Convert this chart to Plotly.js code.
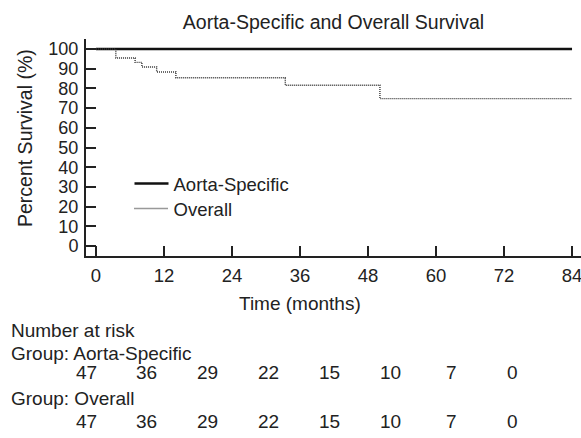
<!DOCTYPE html>
<html>
<head>
<meta charset="utf-8">
<script src="https://cdn.plot.ly/plotly-3.0.1.min.js"></script>
<style>html,body{margin:0;padding:0;background:#fff;}#chart{width:581px;height:438px;}</style>
</head>
<body>
<div id="chart"></div>
<script>
// ---- data ----
var aortaTime = [0, 84];
var aortaSurv = [100, 100];
var overallTime = [0, 3.5, 6.9, 8.1, 10.7, 14.1, 33.4, 50.1, 84];
var overallSurv = [100, 95.4, 93.2, 90.9, 88.3, 85.4, 81.6, 74.8, 74.8];
var riskTimes = [0, 12, 24, 36, 48, 60, 72, 84];
var riskAorta = [47, 36, 29, 22, 15, 10, 7, 0];
var riskOverall = [47, 36, 29, 22, 15, 10, 7, 0];
var xTicks = [0, 12, 24, 36, 48, 60, 72, 84];
var yTicks = [0, 10, 20, 30, 40, 50, 60, 70, 80, 90, 100];

var FONT = "Liberation Sans, Arial, sans-serif";
var TXT = '#222';

// layout geometry (pixels)
var L = 86, R = 0, T = 39, B = 182, W = 581, H = 438;
var pw = W - L - R, ph = H - T - B;
function py(p) { return (H - B - p) / ph; }
function px(p) { return (p - L) / pw; }
// risk table column positions (table is narrower than the axis)
function riskX(t) { return (t * 426 / 84) / pw; }

var traces = [
  {x: aortaTime, y: aortaSurv, mode: 'lines', name: 'Aorta-Specific', legend: 'legend',
   line: {color: '#111', width: 2.5, shape: 'hv'}},
  {x: overallTime, y: overallSurv, mode: 'lines', name: 'Overall', legend: 'legend2',
   line: {color: '#333', width: 1.4, dash: '1px,1px', shape: 'hv'}}
];

var ann = [];
function txt(t, x, y, anchor, size, angle) {
  var a = {text: t, xref: 'paper', yref: 'paper', x: x, y: y, xanchor: anchor, yanchor: 'middle',
    showarrow: false, font: {family: FONT, size: size, color: TXT}};
  if (angle) a.textangle = angle;
  ann.push(a);
}
txt('Time (months)', px(300), py(303), 'center', 19);
txt('Percent Survival (%)', px(25), py(138), 'center', 19.5, -90);
txt('Number at risk', px(9), py(330), 'left', 19);
txt('Group: Aorta-Specific', px(9), py(353), 'left', 19);
txt('Group: Overall', px(9), py(398), 'left', 19);
for (var i = 0; i < riskTimes.length; i++) {
  txt(String(riskAorta[i]), riskX(riskTimes[i]), py(372), 'center', 19);
  txt(String(riskOverall[i]), riskX(riskTimes[i]), py(421), 'center', 19);
}

var legFont = {family: FONT, size: 18.5, color: TXT};
var layout = {
  width: W, height: H,
  margin: {l: L, r: R, t: T, b: B, pad: 0},
  paper_bgcolor: '#fff', plot_bgcolor: '#fff',
  font: {family: FONT, size: 18, color: TXT},
  title: {text: 'Aorta-Specific and Overall Survival', xref: 'paper', x: 0.5, xanchor: 'center',
    yref: 'container', y: 1 - 22 / H, yanchor: 'middle', font: {family: FONT, size: 19.5, color: TXT}},
  xaxis: {range: [-10 / 5.667, 485 / 5.667], tickvals: xTicks, ticktext: xTicks.map(String),
    ticks: 'inside', ticklen: 10, tickwidth: 2, tickcolor: '#222',
    showline: true, linecolor: '#222', linewidth: 2, showgrid: false, zeroline: false,
    ticklabeloverflow: 'allow',
    tickfont: {family: FONT, size: 18.5, color: TXT}, ticklabelstandoff: 2},
  yaxis: {range: [-5.08, 105.08], tickvals: yTicks, ticktext: yTicks.map(String),
    ticks: 'inside', ticklen: 10, tickwidth: 2, tickcolor: '#222',
    showline: true, linecolor: '#222', linewidth: 2, showgrid: false, zeroline: false,
    tickfont: {family: FONT, size: 18, color: TXT}, ticklabelstandoff: 2},
  showlegend: true,
  legend: {x: px(129.5), y: py(165), xanchor: 'left', yanchor: 'top', bgcolor: 'rgba(0,0,0,0)',
    font: legFont, itemwidth: 34},
  legend2: {x: px(129.5), y: py(190), xanchor: 'left', yanchor: 'top', bgcolor: 'rgba(0,0,0,0)',
    font: legFont, itemwidth: 34},
  annotations: ann
};

Plotly.newPlot('chart', traces, layout, {displayModeBar: false, staticPlot: true});
</script>
</body>
</html>
